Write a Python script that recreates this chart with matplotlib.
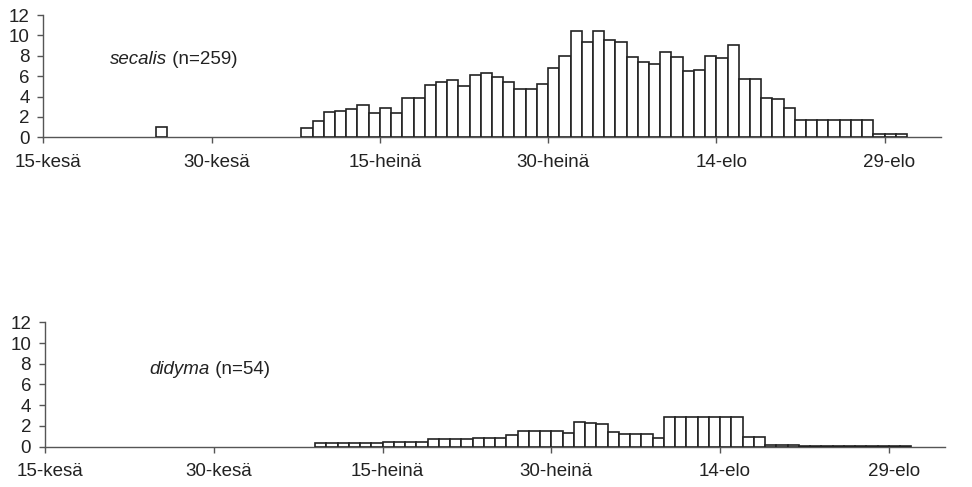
import matplotlib.pyplot as plt
import matplotlib.transforms as mtransforms

plt.rcParams['font.family'] = ['Liberation Sans', 'DejaVu Sans']

# x axis: days counted from 15 June
tick_days = [0, 15, 30, 45, 60, 75]
tick_labels = ["15-kesä", "30-kesä", "15-heinä", "30-heinä", "14-elo", "29-elo"]

# secalis (n=259): one early bar, then a run of daily bars
secalis_days = [10] + list(range(23, 77))
secalis_vals = [1.0,
                0.9, 1.6, 2.5, 2.6, 2.75, 3.2, 2.4, 2.9, 2.35, 3.9,
                3.9, 5.1, 5.45, 5.6, 5.05, 6.15, 6.3, 5.9, 5.4, 4.7,
                4.7, 5.2, 6.8, 8.0, 10.4, 9.4, 10.4, 9.55, 9.4, 7.9,
                7.35, 7.2, 8.4, 7.85, 6.55, 6.6, 8.0, 7.8, 9.05, 5.7,
                5.7, 3.9, 3.75, 2.9, 1.7, 1.7, 1.7, 1.7, 1.7, 1.7,
                1.7, 0.3, 0.3, 0.3]

# didyma (n=54)
didyma_days = list(range(24, 77))
didyma_vals = [0.3, 0.3, 0.3, 0.3, 0.3, 0.3,
               0.45, 0.45, 0.45, 0.45,
               0.7, 0.7, 0.7, 0.7,
               0.85, 0.85, 0.85,
               1.15,
               1.5, 1.5, 1.5, 1.5,
               1.3, 2.4, 2.3, 2.2, 1.4,
               1.2, 1.2, 1.2, 0.8,
               2.9, 2.9, 2.9, 2.9, 2.9, 2.9, 2.9,
               0.95, 0.95,
               0.2, 0.2, 0.2,
               0.1, 0.1, 0.1, 0.1, 0.1, 0.1, 0.1, 0.1, 0.1, 0.1]

AX_COL = "#555555"
FS = 13.5

fig = plt.figure(figsize=(9.72, 4.87), dpi=100)
ax1 = fig.add_axes([0.0447, 0.718, 0.923, 0.251])
ax2 = fig.add_axes([0.0463, 0.083, 0.926, 0.255])


def style(ax, days, vals, name, n, tx, ty):
    ax.bar(days, vals, width=1.0, align="edge", color="white",
           edgecolor="#222222", linewidth=1.2, zorder=3)
    ax.set_xlim(0, 80)
    ax.set_ylim(0, 12)
    ax.set_yticks(range(0, 13, 2))
    ax.set_xticks(tick_days)
    ax.set_xticklabels(tick_labels)
    for s in ["top", "right"]:
        ax.spines[s].set_visible(False)
    for s in ["left", "bottom"]:
        ax.spines[s].set_color(AX_COL)
        ax.spines[s].set_linewidth(1.0)
    ax.tick_params(axis="both", direction="out", length=4, width=1.0,
                   color=AX_COL, labelsize=FS, labelcolor="#222222")
    ax.tick_params(axis="x", pad=8)
    ax.tick_params(axis="y", pad=6)
    off = mtransforms.ScaledTranslation(5 / 100, 0, fig.dpi_scale_trans)
    for lab in ax.get_xticklabels():
        lab.set_transform(lab.get_transform() + off)
    t = ax.text(tx, ty, name, style="italic", fontsize=FS, color="#222222",
                va="center", ha="left")
    ax.annotate(f" (n={n})", xy=(1, 0.5), xycoords=t, va="center",
                ha="left", fontsize=FS, color="#222222")


style(ax1, secalis_days, secalis_vals, "secalis", 259, 5.9, 7.6)
style(ax2, didyma_days, didyma_vals, "didyma", 54, 9.3, 7.4)

plt.savefig("out.png", dpi=100)
